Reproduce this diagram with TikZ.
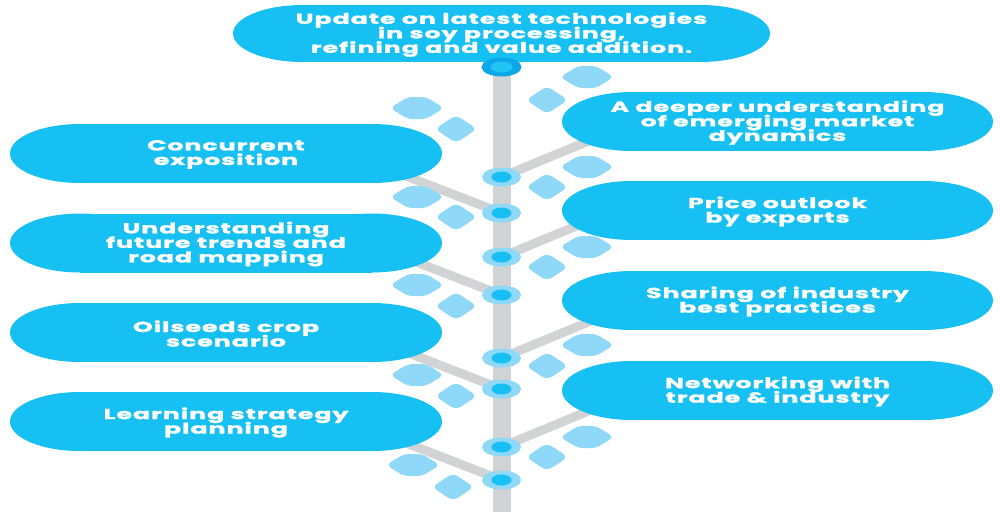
\documentclass[tikz,border=0pt]{standalone}
\usepackage{fontspec}
\newfontfamily\pf{Poppins}[FakeStretch=1.75,LetterSpace=6,FakeBold=1.5]
\usetikzlibrary{shapes.geometric}
\pgfdeclarelayer{bg}
\pgfsetlayers{bg,main}
\definecolor{pillc}{HTML}{17C0F2}
\definecolor{leafc}{HTML}{8FD8F7}
\definecolor{stemc}{HTML}{D2D3D5}
\definecolor{topc}{HTML}{0BA7E8}
\definecolor{topin}{HTML}{22C4F4}
\newcommand\mypill[7]{%
  \fill[pillc] ({#2-#4+#6},{#3-#5}) rectangle ({#2+#4-#6},{#3+#5});
  \fill[pillc] ({#2-#4+#6},#3) ellipse [x radius=#6pt, y radius=#5pt];
  \fill[pillc] ({#2+#4-#6},#3) ellipse [x radius=#6pt, y radius=#5pt];
  \node[ptext] (#1) at (#2,{#3+1}) {#7};
}
\newcommand\lensleaf[2]{\fill[leafshape] ({#1-27},#2) -- ({#1-9},{#2-11}) -- ({#1+9},{#2-11}) -- ({#1+27},#2) -- ({#1+9},{#2+11}) -- ({#1-9},{#2+11}) -- cycle;}
\newcommand\diamleaf[2]{\fill[leafshape,rounded corners=6pt] ({#1-21},#2) -- (#1,{#2-14}) -- ({#1+21},#2) -- (#1,{#2+14}) -- cycle;}
\begin{document}
\lineskiplimit=-20pt
\lineskip=0pt
\begin{tikzpicture}[x=1pt,y=-1pt,
  ptext/.style={text=white,font=\pf\bfseries\fontsize{14.5}{14.5}\selectfont,align=center,inner sep=0pt},
  snode/.style={ellipse,fill=leafc,minimum width=39pt,minimum height=19pt,inner sep=0pt,
     path picture={\fill[pillc] (path picture bounding box.center) ellipse[x radius=10pt,y radius=5.5pt];}},
  topnode/.style={ellipse,fill=topc,minimum width=40pt,minimum height=19pt,inner sep=0pt,
     path picture={\fill[topin] (path picture bounding box.center) ellipse[x radius=11pt,y radius=5.5pt];}},
  branch/.style={draw=stemc,line width=9pt},
  stemline/.style={draw=stemc,line width=18pt},
  leafshape/.style={fill=leafc,rounded corners=5pt}]
\useasboundingbox (0,0) rectangle (1000,512);

% pills
\mypill{top}{501.5}{33.5}{268.5}{28.5}{70}{Update on latest technologies\\in soy processing,\\refining and value addition.}
\mypill{r1}{777.5}{121.5}{215.5}{29.5}{70}{A deeper understanding\\of emerging market\\dynamics}
\mypill{r2}{777.5}{210.5}{215.5}{29.5}{70}{Price outlook\\by experts}
\mypill{r3}{777.5}{300.5}{215.5}{29.5}{70}{Sharing of industry\\best practices}
\mypill{r4}{777.5}{390.5}{215.5}{29.5}{70}{Networking with\\trade \& industry}
\mypill{l1}{226}{153.5}{216}{29.5}{70}{Concurrent\\exposition}
\mypill{l2}{226}{243}{216}{29.5}{70}{Understanding\\future trends and\\road mapping}
\mypill{l3}{226}{332.5}{216}{29.5}{70}{Oilseeds crop\\scenario}
\mypill{l4}{226}{421.5}{216}{29.5}{70}{Learning strategy\\planning}

% stem nodes
\node[topnode] (tc) at (501.5,67) {};
\node[snode] (s1) at (501.5,177) {};
\node[snode] (s2) at (501.5,213) {};
\node[snode] (s3) at (501.5,257) {};
\node[snode] (s4) at (501.5,295) {};
\node[snode] (s5) at (501.5,358) {};
\node[snode] (s6) at (501.5,389) {};
\node[snode] (s7) at (501.5,447) {};
\node[snode] (s8) at (501.5,480) {};
\coordinate (bot) at (501.5,512);

% branch ends inside pills
\coordinate (e1) at (620,128);
\coordinate (e3) at (620,208);
\coordinate (e5) at (620,309);
\coordinate (e7) at (620,398);
\coordinate (e2) at (380,166);
\coordinate (e4) at (380,248);
\coordinate (e6) at (380,342);
\coordinate (e8) at (380,433);

\begin{pgfonlayer}{bg}
  \draw[stemline] (tc.center) -- (bot);
  \draw[branch] (s1.center) -- (e1);
  \draw[branch] (s3.center) -- (e3);
  \draw[branch] (s5.center) -- (e5);
  \draw[branch] (s7.center) -- (e7);
  \draw[branch] (e2) -- (s2.center);
  \draw[branch] (e4) -- (s4.center);
  \draw[branch] (e6) -- (s6.center);
  \draw[branch] (e8) -- (s8.center);
  % leaves right
  \lensleaf{587}{77}   \diamleaf{547}{100}
  \lensleaf{587}{167}  \diamleaf{547}{187}
  \lensleaf{587}{247}  \diamleaf{547}{267}
  \lensleaf{587}{345}  \diamleaf{547}{366}
  \lensleaf{587}{437}  \diamleaf{547}{457}
  % leaves left
  \lensleaf{417}{108}  \diamleaf{456}{129}
  \lensleaf{417}{197}  \diamleaf{456}{217}
  \lensleaf{417}{285}  \diamleaf{456}{306}
  \lensleaf{417}{375}  \diamleaf{456}{396}
  \lensleaf{413}{465}  \diamleaf{453}{487}
\end{pgfonlayer}
\end{tikzpicture}
\end{document}
